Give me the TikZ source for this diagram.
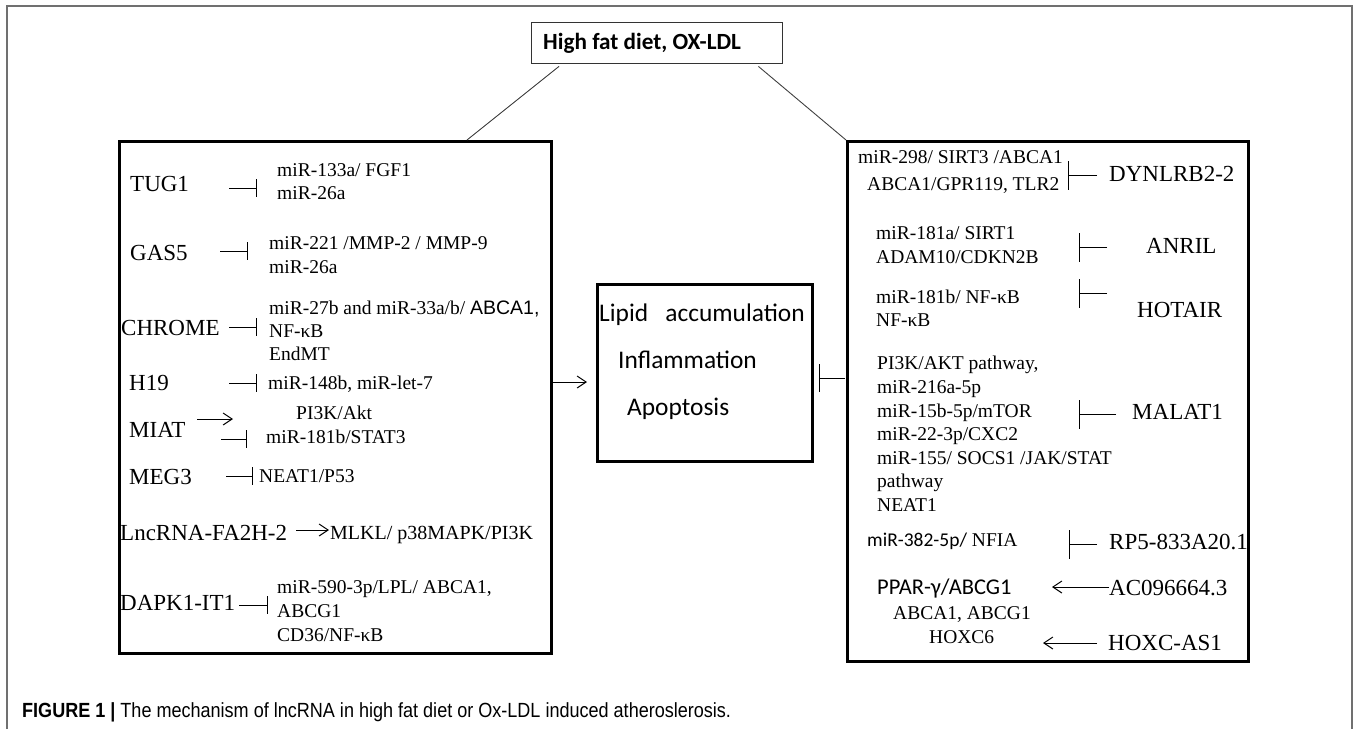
\documentclass[tikz,border=0pt]{standalone}
\usepackage{fontspec}
\setmainfont{Liberation Serif}
\newfontfamily\calfont{Carlito}
\newfontfamily\arifont{Liberation Sans}
\usetikzlibrary{arrows.meta,calc}
\definecolor{framegray}{HTML}{707070}
\tikzset{
  lab/.style={font=\fontsize{23}{26}\selectfont, anchor=west, inner sep=0pt, text height=15pt, text depth=0pt},
  txt/.style={font=\fontsize{19.5}{22}\selectfont, anchor=west, inner sep=0pt, text height=13pt, text depth=0pt},
  mtxt/.style={font=\calfont\fontsize{25.4}{28}\selectfont, anchor=west, inner sep=0pt, text height=16pt, text depth=0pt},
  panel/.style={draw, line width=3pt, anchor=north west, inner sep=0pt},
  inh/.style={-{Bar[width=18pt,line width=1pt]}, line width=1pt},
  inhw/.style={-{Bar[width=29pt,line width=1pt]}, line width=1pt},
  arr/.style={-{Straight Barb[length=9pt,width=12pt,line width=1pt]}, line width=1pt},
  conn/.style={line width=0.9pt, draw=black!75},
}
\begin{document}
\begin{tikzpicture}[x=1pt,y=-1pt]
\useasboundingbox (0,0) rectangle (1357,729);
% outer frame
\draw[framegray, line width=1.2pt] (7,729) -- (7,6) -- (1352,6) -- (1352,729);

% top box
\node[draw=black!80, line width=1.4pt, anchor=north west, inner sep=0pt, minimum width=251pt, minimum height=41pt] (top) at (531,22) {};
\node[font=\calfont\bfseries\fontsize{23.2}{26}\selectfont, anchor=west, inner sep=0pt, text height=14pt, text depth=0pt] (toptxt) at (543,42) {High fat diet, OX-LDL};

% ---------- left panel texts ----------
\node[lab] (tug1) at (130,184) {TUG1};
\node[txt] (tug1a) at (277,170) {miR-133a/ FGF1};
\node[txt] (tug1b) at (277,193) {miR-26a};
\coordinate (c1a) at (229,188); \coordinate (c1b) at (257,188);
\draw[inh] (c1a) -- (c1b);

\node[lab] (gas5) at (130,253) {GAS5};
\node[txt] (gas5a) at (269,243) {miR-221 /MMP-2 / MMP-9};
\node[txt] (gas5b) at (269,267) {miR-26a};
\coordinate (c2a) at (220,251); \coordinate (c2b) at (248,251);
\draw[inh] (c2a) -- (c2b);

\node[lab] (chrome) at (121,328) {CHROME};
\node[txt] (chra) at (269,308) {miR-27b and miR-33a/b/ {\arifont ABCA1,}};
\node[txt] (chrb) at (269,331) {NF-κB};
\node[txt] (chrc) at (269,354) {EndMT};
\coordinate (c3a) at (229,327); \coordinate (c3b) at (257,327);
\draw[inh] (c3a) -- (c3b);

\node[lab] (h19) at (129,383) {H19};
\node[txt] (h19a) at (268,383) {miR-148b, miR-let-7};
\coordinate (c4a) at (229,383); \coordinate (c4b) at (257,383);
\draw[inh] (c4a) -- (c4b);

\node[lab] (miat) at (129,430) {MIAT};
\node[txt] (miata) at (296,413) {PI3K/Akt};
\node[txt] (miatb) at (266,437) {miR-181b/STAT3};
\coordinate (c5a) at (197,419); \coordinate (c5b) at (233,419);
\draw[arr] (c5a) -- (c5b);
\coordinate (c6a) at (221,439); \coordinate (c6b) at (247,439);
\draw[inh] (c6a) -- (c6b);

\node[lab] (meg3) at (129,477) {MEG3};
\node[txt] (meg3a) at (259,476) {NEAT1/P53};
\coordinate (c7a) at (226,476); \coordinate (c7b) at (253,476);
\draw[inh] (c7a) -- (c7b);

\node[lab] (fa2h) at (120,533) {LncRNA-FA2H-2};
\node[font=\fontsize{20}{23}\selectfont, anchor=west, inner sep=0pt, text height=14pt, text depth=0pt] (fa2ha) at (330,532) {MLKL/ p38MAPK/PI3K};
\coordinate (c8a) at (296,530); \coordinate (c8b) at (329,530);
\draw[arr] (c8a) -- (c8b);

\node[lab] (dapk) at (120,603) {DAPK1-IT1};
\node[txt] (dapka) at (277,587) {miR-590-3p/LPL/ ABCA1,};
\node[txt] (dapkb) at (277,611) {ABCG1};
\node[txt] (dapkc) at (277,635) {CD36/NF-κB};
\coordinate (c9a) at (239,605); \coordinate (c9b) at (268,605);
\draw[inh] (c9a) -- (c9b);

% ---------- middle box ----------
\node[panel, minimum width=215pt, minimum height=177pt] (mid) at (596,283) {};
\node[mtxt] (m1) at (599,313) {Lipid\ \ \ accumulation};
\node[mtxt] (m2) at (618,360) {Inflammation};
\node[mtxt] (m3) at (627,407) {Apoptosis};

% ---------- right panel texts ----------
\node[txt] (dyna) at (858,157) {miR-298/ SIRT3 /ABCA1};
\node[txt] (dynb) at (867,184) {ABCA1/GPR119, TLR2};
\node[lab] (dyn) at (1109,174) {DYNLRB2-2};
\coordinate (d1a) at (1097,175); \coordinate (d1b) at (1068,175);
\draw[inhw] (d1a) -- (d1b);

\node[txt] (anra) at (876,233) {miR-181a/ SIRT1};
\node[txt] (anrb) at (876,257) {ADAM10/CDKN2B};
\node[lab] (anril) at (1146,246) {ANRIL};
\coordinate (d2a) at (1107,247); \coordinate (d2b) at (1079,247);
\draw[inhw] (d2a) -- (d2b);

\node[txt] (hota) at (876,297) {miR-181b/ NF-κB};
\node[txt] (hotb) at (876,320) {NF-κB};
\node[lab] (hotair) at (1137,310) {HOTAIR};
\coordinate (d3a) at (1107,293); \coordinate (d3b) at (1079,293);
\draw[inhw] (d3a) -- (d3b);

\node[txt] (mal1) at (877,363) {PI3K/AKT pathway,};
\node[txt] (mal2) at (877,387) {miR-216a-5p};
\node[txt] (mal3) at (877,411) {miR-15b-5p/mTOR};
\node[txt] (mal4) at (877,434) {miR-22-3p/CXC2};
\node[txt] (mal5) at (877,458) {miR-155/ SOCS1 /JAK/STAT};
\node[txt] (mal6) at (877,481) {pathway};
\node[txt] (mal7) at (877,505) {NEAT1};
\node[lab] (malat) at (1132,412) {MALAT1};
\coordinate (d4a) at (1116,414); \coordinate (d4b) at (1079,414);
\draw[inhw] (d4a) -- (d4b);

\node[txt] (rp5a) at (867,540) {{\calfont miR-382-5p/} NFIA};
\node[lab] (rp5) at (1109,542) {RP5-833A20.1};
\coordinate (d5a) at (1097,544); \coordinate (d5b) at (1069,544);
\draw[inhw] (d5a) -- (d5b);

\node[font=\calfont\fontsize{22.5}{25}\selectfont, anchor=west, inner sep=0pt, text height=14pt, text depth=0pt] (ppar) at (877,587) {PPAR-γ/ABCG1};
\node[lab] (ac09) at (1109,588) {AC096664.3};
\coordinate (d6a) at (1109,587); \coordinate (d6b) at (1052,587);
\draw[arr] (d6a) -- (d6b);

\node[txt] (abca) at (893,613) {ABCA1, ABCG1};
\node[txt] (hoxc6) at (929,637) {HOXC6};
\node[lab] (hoxas) at (1108,643) {HOXC-AS1};
\coordinate (d7a) at (1097,643); \coordinate (d7b) at (1043,643);
\draw[arr] (d7a) -- (d7b);

% ---------- panels ----------
\node[panel, minimum width=432pt, minimum height=512pt] (left) at (118,140) {};
\node[panel, minimum width=401pt, minimum height=520pt] (right) at (846,140) {};

% connectors top -> panels
\draw[conn] ($(top.south west)+(28,2)$) -- ($(left.north west)+(349,0)$);
\draw[conn] ($(top.south east)+(-25,2)$) -- (right.north west);

% left panel -> middle
\coordinate (e1a) at (551,382); \coordinate (e1b) at (587,382);
\draw[arr] (e1a) -- (e1b);
% right panel -| middle
\coordinate (e2a) at (845,378); \coordinate (e2b) at (819,378);
\draw[-{Bar[width=28pt,line width=1pt]}, line width=1pt] (e2a) -- (e2b);

% caption
\node[font=\arifont\fontsize{20.5}{24}\selectfont, anchor=base west, inner sep=0pt] (cap) at (22,717) {\scalebox{0.88}[1]{\textbf{FIGURE 1 |} The mechanism of lncRNA in high fat diet or Ox-LDL induced atheroslerosis.}};
\end{tikzpicture}
\end{document}
